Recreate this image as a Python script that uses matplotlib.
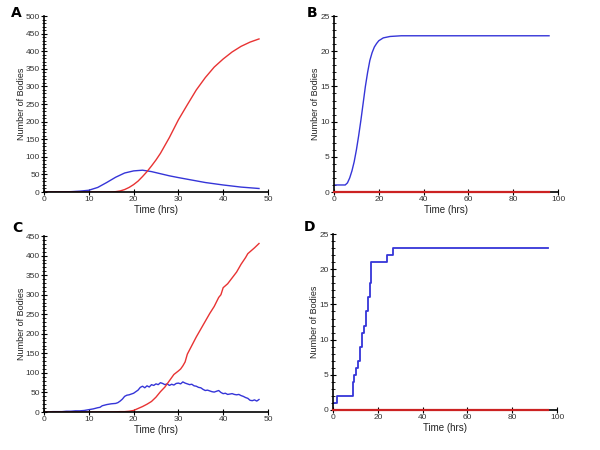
import matplotlib
matplotlib.use("Agg")
import matplotlib.pyplot as plt
from matplotlib.ticker import MultipleLocator

plt.rcParams['font.family'] = ['Liberation Sans', 'DejaVu Sans']

# panel A - deterministic model, 0-48 h
a_t = [0, 2, 4, 6, 8, 10, 12, 14, 16, 18, 20, 22, 24, 26, 28, 30, 33, 36, 40, 44, 48]
a_blue = [0, 0.2, 0.5, 1, 2.5, 5, 13, 27, 42, 54, 60, 62, 58, 52, 46, 41, 34, 27, 20, 14, 10]
a_red_t = [0, 10, 14, 15, 16, 17, 18, 19, 20, 21, 22, 23, 24, 25, 26, 28, 30, 32, 34, 36, 38, 40, 42, 44, 46, 48]
a_red = [0, 0, 0, 0.3, 1, 3, 7, 13, 21, 31, 44, 58, 74, 91, 110, 155, 205, 248, 290, 325, 355, 378, 398, 414, 426, 435]

# panel B - deterministic model, 0-96 h
b_t = [0, 2, 4, 5, 6, 7, 8, 9, 10, 11, 12, 13, 14, 15, 16, 17, 18, 19, 20, 22, 25, 30, 40, 60, 96]
b_blue = [1, 1, 1, 1, 1.3, 2, 3, 4.3, 6, 8, 10.2, 12.6, 15, 17, 18.7, 19.8, 20.6, 21.1, 21.5, 21.9, 22.1, 22.2, 22.2, 22.2, 22.2]
b_red_t = [0, 96]
b_red = [0, 0]

# panel C - stochastic run, 0-48 h
c_t = [0, 2, 4, 5, 6, 7, 8, 9, 10, 11, 12, 12.5, 13, 14, 15, 16, 16.5, 17, 17.5, 18, 18.5, 19, 19.5, 20,
       20.5, 21, 21.5, 22, 22.5, 23, 23.5, 24, 24.5, 25, 25.5, 26, 26.5, 27, 27.5, 28, 28.5, 29, 29.5, 30,
       30.5, 31, 31.5, 32, 32.5, 33, 33.5, 34, 34.5, 35, 35.5, 36, 36.5, 37, 37.5, 38, 38.5, 39, 39.5, 40,
       40.5, 41, 41.5, 42, 42.5, 43, 43.5, 44, 44.5, 45, 45.5, 46, 46.5, 47, 47.5, 48]
c_blue = [0, 1, 1, 2, 2, 3, 3, 4, 6, 8, 11, 12, 16, 19, 21, 22, 24, 28, 33, 40, 43, 44, 46, 48,
          52, 56, 63, 66, 62, 67, 64, 70, 68, 72, 70, 75, 73, 70, 72, 68, 71, 69, 73, 74,
          72, 77, 74, 72, 70, 71, 67, 66, 63, 62, 58, 55, 56, 54, 52, 51, 53, 55, 50, 47,
          48, 45, 46, 47, 45, 44, 45, 42, 40, 37, 35, 30, 29, 31, 28, 32]
c_red_t = [0, 14, 16, 17, 18, 19, 20, 21, 22, 23, 24, 25, 26, 27, 28, 29, 30, 30.5, 31, 31.5, 32, 33, 34,
           35, 36, 37, 38, 39, 39.5, 40, 41, 42, 43, 44, 45, 45.5, 46, 47, 48]
c_red = [0, 0, 0.5, 1, 1, 2, 4, 9, 14, 20, 27, 38, 52, 64, 80, 96, 105, 110, 118, 128, 148, 170, 192,
         212, 232, 252, 270, 293, 300, 318, 328, 343, 358, 378, 395, 405, 410, 420, 431]

# panel D - stochastic run, 0-96 h (step counts)
d_t = [0, 2, 8.8, 9.5, 10.4, 11, 12.2, 13, 13.8, 14.7, 15.5, 16.3, 17, 24.1, 26.6, 96]
d_blue = [1, 2, 4, 5, 6, 7, 9, 11, 12, 14, 16, 18, 21, 22, 23, 23]
d_red_t = [0, 96]
d_red = [0, 0]

blue = '#3535d8'
red = '#e83333'

fig = plt.figure(figsize=(6, 4.5), dpi=100)
axA = fig.add_axes([0.0733, 0.5733, 0.3733, 0.391])
axB = fig.add_axes([0.5567, 0.5733, 0.3733, 0.391])
axC = fig.add_axes([0.0733, 0.0844, 0.3733, 0.391])
axD = fig.add_axes([0.555, 0.0889, 0.3733, 0.391])

axA.plot(a_t, a_blue, color=blue, lw=1)
axA.plot(a_red_t, a_red, color=red, lw=1)
axB.plot(b_t, b_blue, color=blue, lw=1)
axB.plot(b_red_t, b_red, color='#cc2222', lw=1.6, clip_on=False, zorder=5)
axC.plot(c_t, c_blue, color=blue, lw=1)
axC.plot(c_red_t, c_red, color=red, lw=1)
axD.step(d_t, d_blue, where='post', color=blue, lw=1.3)
axD.plot(d_red_t, d_red, color='#cc2222', lw=1.6, clip_on=False, zorder=5)

setup = [(axA, 50, 10, 500, 50, 10),
         (axB, 100, 20, 25, 5, 1),
         (axC, 50, 10, 450, 50, 10),
         (axD, 100, 20, 25, 5, 1)]
for ax, xmax, xstep, ymax, ystep, yminor in setup:
    ax.set_xlim(0, xmax)
    ax.set_ylim(0, ymax)
    ax.xaxis.set_major_locator(MultipleLocator(xstep))
    ax.yaxis.set_major_locator(MultipleLocator(ystep))
    ax.yaxis.set_minor_locator(MultipleLocator(yminor))
    for s in ['top', 'right']:
        ax.spines[s].set_visible(False)
    for s in ['left', 'bottom']:
        ax.spines[s].set_linewidth(1.2)
    ax.tick_params(which='major', direction='inout', length=4, width=0.8, labelsize=6,
                   pad=1, labelcolor='#333333')
    ax.tick_params(which='minor', direction='inout', length=2.5, width=0.6)
    ax.set_xlabel('Time (hrs)', fontsize=7, labelpad=1, color='#222222')
    ax.set_ylabel('Number of Bodies', fontsize=6.5, labelpad=0, color='#222222')

fig.text(0.018, 0.962, 'A', fontsize=10, fontweight='bold', family='DejaVu Sans')
fig.text(0.511, 0.962, 'B', fontsize=10, fontweight='bold', family='DejaVu Sans')
fig.text(0.02, 0.485, 'C', fontsize=10, fontweight='bold', family='DejaVu Sans')
fig.text(0.507, 0.487, 'D', fontsize=10, fontweight='bold', family='DejaVu Sans')

fig.savefig('out.png', dpi=100)
